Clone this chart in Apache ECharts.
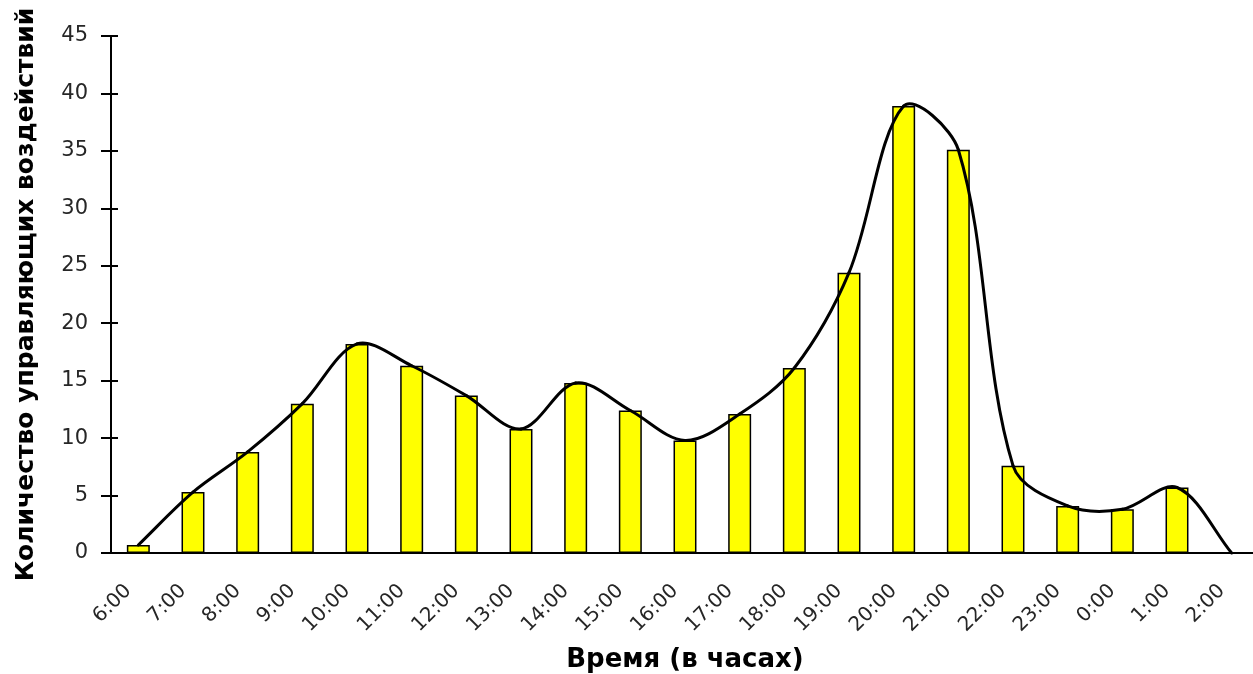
<!DOCTYPE html>
<html>
<head>
<meta charset="utf-8">
<script src="https://cdn.jsdelivr.net/npm/echarts@6/dist/echarts.min.js"></script>
<style>
  html, body { margin: 0; padding: 0; background: #fff; }
  #chart { width: 1253px; height: 674px; }
</style>
</head>
<body>
<div id="chart"></div>
<script>
// Hourly time slots, 6:00 through 2:00 of the next night
const hours = ['6:00', '7:00', '8:00', '9:00', '10:00', '11:00', '12:00', '13:00', '14:00',
  '15:00', '16:00', '17:00', '18:00', '19:00', '20:00', '21:00', '22:00', '23:00',
  '0:00', '1:00', '2:00'];

// Number of control actions in each hour
const actions = [0.7, 5.3, 8.8, 13.0, 18.2, 16.3, 13.7, 10.8, 14.8, 12.4, 9.8, 12.1,
  16.1, 24.4, 38.9, 35.1, 7.6, 4.1, 3.8, 5.7, 0];

const yTicks = { min: 0, max: 45, interval: 5 };

const labelFont = { fontFamily: 'DejaVu Sans', fontSize: 20, color: '#262626' };
const titleFont = { fontFamily: 'DejaVu Sans', fontWeight: 'bold', fontSize: 26, color: '#000' };

// Smoothing strength of the trend curve (control arms split by segment length)
const CURVE_SMOOTH = 1 / 3;

const chart = echarts.init(document.getElementById('chart'), null, { renderer: 'canvas' });

// Control arms around point k: direction from previous to next point,
// shared between both sides in proportion to the adjacent segment lengths.
function controlArms(pts, k) {
  const n = pts.length;
  const prev = pts[Math.max(0, k - 1)];
  const cur = pts[k];
  const next = pts[Math.min(n - 1, k + 1)];
  const vx = next[0] - prev[0], vy = next[1] - prev[1];
  const d0 = Math.hypot(cur[0] - prev[0], cur[1] - prev[1]);
  const d1 = Math.hypot(next[0] - cur[0], next[1] - cur[1]);
  const sum = d0 + d1 || 1;
  return {
    back: [cur[0] - vx * CURVE_SMOOTH * d0 / sum, cur[1] - vy * CURVE_SMOOTH * d0 / sum],
    fwd: [cur[0] + vx * CURVE_SMOOTH * d1 / sum, cur[1] + vy * CURVE_SMOOTH * d1 / sum]
  };
}

// One cubic Bezier segment from point i to point i+1, positions from the axes
function renderCurveSegment(params, api) {
  const i = params.dataIndex;
  const n = actions.length;
  if (i >= n - 1) return null;
  const pts = actions.map((v, k) => api.coord([k, v]));
  const a = controlArms(pts, i);
  const b = controlArms(pts, i + 1);
  return {
    type: 'bezierCurve',
    shape: {
      x1: pts[i][0], y1: pts[i][1],
      cpx1: a.fwd[0], cpy1: a.fwd[1],
      cpx2: b.back[0], cpy2: b.back[1],
      x2: pts[i + 1][0], y2: pts[i + 1][1]
    },
    style: { stroke: '#000', lineWidth: 3, fill: null, lineCap: 'round' }
  };
}

chart.setOption({
  backgroundColor: '#fff',
  animation: false,
  grid: { left: 111, top: 36, right: -6, bottom: 121, containLabel: false, outerBoundsMode: 'none' },
  xAxis: [
    {
      type: 'category',
      data: hours,
      name: 'Время (в часах)',
      nameLocation: 'middle',
      nameGap: 94,
      nameTextStyle: titleFont,
      axisLine: { lineStyle: { color: '#000', width: 2 } },
      axisTick: { length: 10, lineStyle: { color: '#000', width: 2 } },
      axisLabel: Object.assign({ rotate: 45, margin: 25, interval: 0, padding: [0, 14, 0, 0] }, labelFont),
      splitLine: { show: false }
    },
    {
      // inner half of the crossing tick marks
      type: 'category',
      data: hours,
      position: 'bottom',
      axisLine: { show: false },
      axisTick: { inside: true, length: 7, lineStyle: { color: '#000', width: 2 } },
      axisLabel: { show: false },
      splitLine: { show: false }
    }
  ],
  yAxis: [
    {
      type: 'value',
      min: yTicks.min, max: yTicks.max, interval: yTicks.interval,
      name: 'Количество управляющих воздействий',
      nameLocation: 'middle',
      nameGap: 72,
      nameTextStyle: Object.assign({}, titleFont, { fontSize: 25 }),
      axisLine: { show: true, lineStyle: { color: '#000', width: 2 } },
      axisTick: { show: true, length: 10, lineStyle: { color: '#000', width: 2 } },
      axisLabel: Object.assign({ margin: 23 }, labelFont, { fontSize: 21 }),
      splitLine: { show: false }
    },
    {
      type: 'value',
      min: yTicks.min, max: yTicks.max, interval: yTicks.interval,
      position: 'left',
      axisLine: { show: false },
      axisTick: { show: true, inside: true, length: 7, lineStyle: { color: '#000', width: 2 } },
      axisLabel: { show: false },
      splitLine: { show: false }
    }
  ],
  series: [
    {
      type: 'bar',
      data: actions.map(v => (v === 0 ? '-' : v)),
      barWidth: '42%',
      itemStyle: { color: '#ffff00', borderColor: '#000', borderWidth: 1.5 },
      z: 2
    },
    {
      type: 'custom',
      data: actions.map((v, i) => [i, v]),
      encode: { x: 0, y: 1 },
      renderItem: renderCurveSegment,
      silent: true,
      z: 3
    }
  ]
});
</script>
</body>
</html>
